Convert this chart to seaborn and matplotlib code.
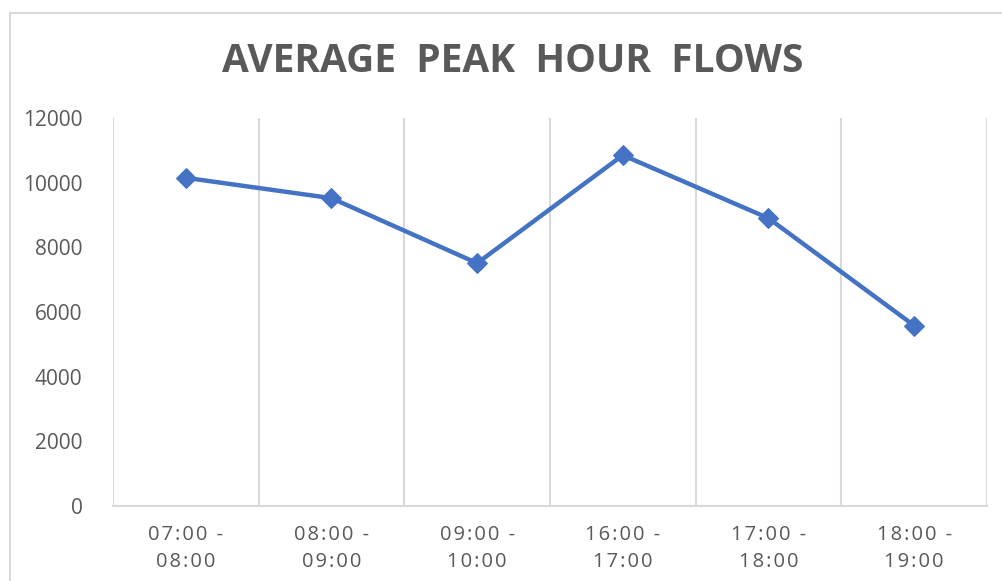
import pandas as pd
import matplotlib.pyplot as plt
import seaborn as sns
from matplotlib.patches import Rectangle

# Peak hour periods and average flows
periods = ['07:00 - 08:00', '08:00 - 09:00', '09:00 - 10:00',
           '16:00 - 17:00', '17:00 - 18:00', '18:00 - 19:00']
flows = [10150, 9520, 7510, 10850, 8900, 5580]
y_ticks = [0, 2000, 4000, 6000, 8000, 10000, 12000]

df = pd.DataFrame({'period': periods, 'flow': flows})

sns.set_style('white')
plt.rcParams['font.family'] = ['Open Sans', 'DejaVu Sans']

grey = '#595959'
grid = '#D9D9D9'
blue = '#4472C4'
HS = '\u200a'  # hair space to mimic letter spacing


def spaced(s):
    return HS.join(s)


fig = plt.figure(figsize=(10.02, 5.81), dpi=100)
ax = fig.add_axes([113 / 1002, 1 - 506 / 581, 874 / 1002, 388 / 581])

sns.lineplot(x='period', y='flow', data=df, ax=ax, color=blue, linewidth=3.2,
             marker='D', markersize=10, markeredgecolor=blue, sort=False)

ax.set_xlim(-0.5, len(periods) - 0.5)
ax.set_ylim(0, 12000)
ax.set_yticks(y_ticks)
ax.set_yticklabels([str(v) for v in y_ticks], color=grey, fontsize=15)
ax.set_xticks(range(len(periods)))
ax.set_xticklabels([spaced(p.split(' - ')[0] + ' -') + '\n' + spaced(p.split(' - ')[1])
                    for p in periods], color=grey, fontsize=14.5, linespacing=1.45)
ax.tick_params(axis='both', length=0)
ax.tick_params(axis='y', pad=22)
ax.tick_params(axis='x', pad=14)
ax.set_xlabel('')
ax.set_ylabel('')

# vertical gridlines between categories
for b in [i - 0.5 for i in range(len(periods) + 1)]:
    ax.axvline(b, color=grid, linewidth=1.5, zorder=0)
for side in ['top', 'right', 'left']:
    ax.spines[side].set_visible(False)
ax.spines['bottom'].set_color(grid)
ax.spines['bottom'].set_linewidth(1.5)

fig.text(512.5 / 1002, 1 - 61 / 581, 'AVERAGE  PEAK  HOUR  FLOWS', ha='center', va='center',
         fontsize=28, fontweight='bold', color=grey)

# chart area border
fig.patches.append(Rectangle((10 / 1002, -0.1), 1.1, 1.1 - 13 / 581,
                             transform=fig.transFigure, fill=False,
                             edgecolor=grid, linewidth=1.5))

fig.savefig('out.png', dpi=100)
